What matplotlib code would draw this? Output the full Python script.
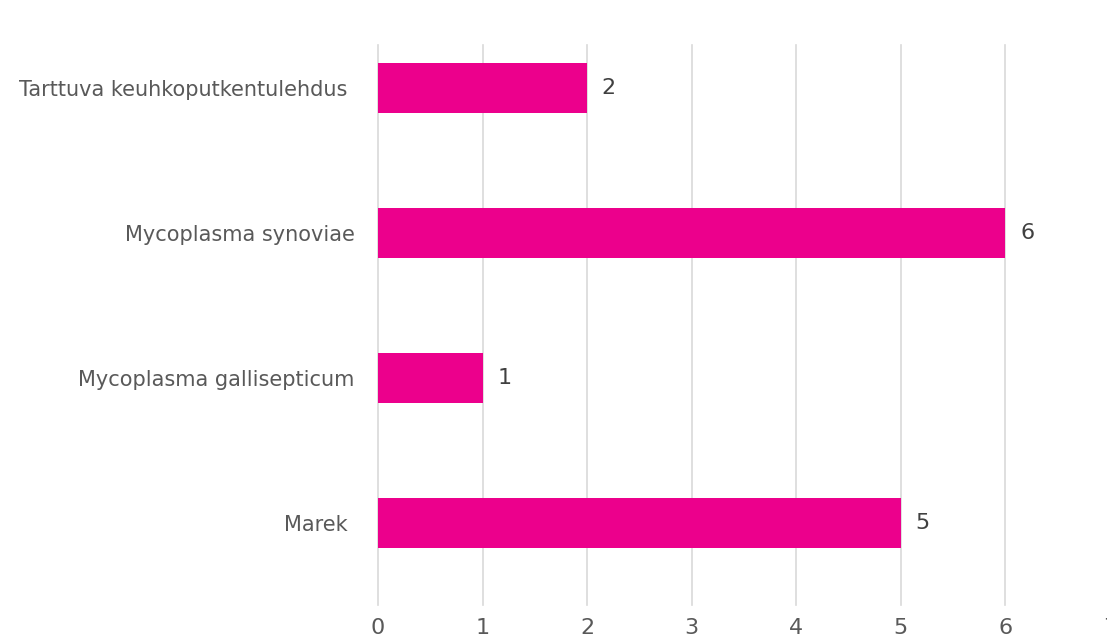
import numpy as np
import matplotlib.pyplot as plt

# tiedot
tauti = ['Marek ', 'Mycoplasma gallisepticum', 'Mycoplasma synoviae', 'Tarttuva keuhkoputkentulehdus ']
maara = [5, 1, 6, 2]
x_ticks = [0, 1, 2, 3, 4, 5, 6, 7]

fig = plt.figure(figsize=(11.07, 6.37), dpi=100)
ax = fig.add_axes([378 / 1107, 32 / 637, 732 / 1107, 560 / 637])

y = np.arange(len(tauti))
ax.barh(y, maara, height=0.345, color='#EC008C', zorder=3)

for yi, v in zip(y, maara):
    ax.text(v + 0.14, yi, str(v), va='center', ha='left', fontsize=16, color='#404040')

ax.set_xlim(0, 7)
ax.set_ylim(-0.566, 3.297)
ax.set_xticks(x_ticks)
ax.set_xticklabels([str(t) for t in x_ticks], fontsize=16, color='#595959')
ax.set_yticks(y)
ax.set_yticklabels(tauti, fontsize=15, color='#595959')
ax.tick_params(axis='x', length=0, pad=9)
ax.tick_params(axis='y', length=0, pad=17)
ax.grid(axis='x', color='#d9d9d9', linewidth=1.2, zorder=0)
for l in ax.get_xgridlines():
    l.set_clip_on(False)
for s in ax.spines.values():
    s.set_visible(False)

fig.savefig('out.png', dpi=100)
